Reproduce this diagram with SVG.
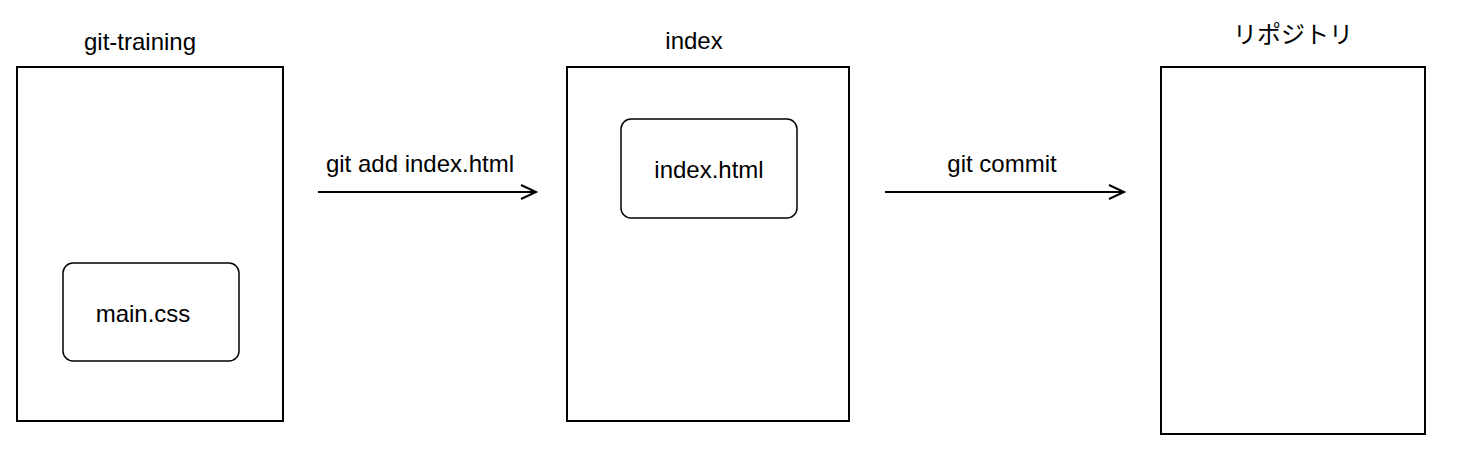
<svg xmlns="http://www.w3.org/2000/svg" width="1458" height="452" viewBox="0 0 1458 452">
<style>
.box{fill:#fff;stroke:#000;stroke-width:2}
.file{fill:#fff;stroke:#000;stroke-width:1.5}
.t{font-family:"Liberation Sans",Arial,"Noto Sans CJK JP",sans-serif;font-size:24px;fill:#000;text-anchor:middle}
.c{fill:none;stroke:#000;stroke-width:2}
</style>
<defs>
<marker id="arr" markerWidth="20" markerHeight="20" refX="16" refY="8" orient="auto" markerUnits="userSpaceOnUse">
<path d="M1,1 L16,8 L1,15" fill="none" stroke="#000" stroke-width="2"/>
</marker>
</defs>
<rect width="1458" height="452" fill="#fff"/>
<g id="node-git-training">
<rect class="box" x="17" y="67" width="266" height="354"/>
<text class="t" x="140" y="50">git-training</text>
</g>
<g id="node-main-css">
<rect class="file" x="63" y="263" width="176" height="98" rx="10"/>
<text class="t" x="143" y="322">main.css</text>
</g>
<g id="node-index">
<rect class="box" x="567" y="67" width="282" height="354"/>
<text class="t" x="694" y="49">index</text>
</g>
<g id="node-index-html">
<rect class="file" x="621" y="119" width="176" height="99" rx="10"/>
<text class="t" x="709" y="178">index.html</text>
</g>
<g id="node-repository">
<rect class="box" x="1161" y="67" width="264" height="367"/>
<text class="t" x="1293" y="43">リポジトリ</text>
</g>
<g id="connectors">
<line class="c" x1="318" y1="192" x2="536" y2="192" marker-end="url(#arr)"/>
<text class="t" x="420" y="172">git add index.html</text>
<line class="c" x1="885" y1="192" x2="1124" y2="192" marker-end="url(#arr)"/>
<text class="t" x="1002" y="172">git commit</text>
</g>
</svg>
